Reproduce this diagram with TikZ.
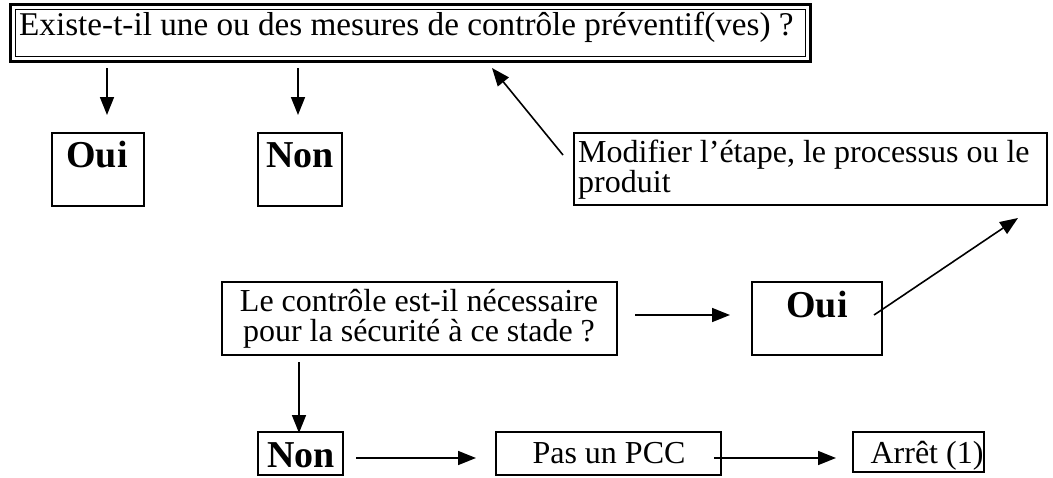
\documentclass[tikz,border=0pt]{standalone}
\usepackage{fontspec}
\setmainfont{Liberation Serif}
\usetikzlibrary{arrows.meta}
\begin{document}
\begin{tikzpicture}[x=1pt,y=-1pt,
  box/.style={draw, line width=1.8pt, rectangle, inner sep=0pt, outer sep=0pt},
  txt/.style={font=\fontsize{32}{30}\selectfont, inner sep=0pt, anchor=base},
  txtw/.style={txt, anchor=base west},
  btxt/.style={font=\fontsize{38}{40}\selectfont\bfseries, inner sep=0pt, anchor=base},
  arr/.style={line width=1.6pt, -{Triangle[length=18pt,width=14pt]}}]
\useasboundingbox (0,0) rectangle (1053,477);
% top double-lined box
\node[box, line width=3pt, minimum width=800pt, minimum height=57pt] (top) at (410.5,33) {};
\node[box, line width=1pt, minimum width=790pt, minimum height=47pt] (topin) at (410.5,33) {};
\node[txtw, font=\fontsize{33.2}{34}\selectfont] (toptxt) at (19,35) {Existe-t-il une ou des mesures de contr\^ole pr\'eventif(ves) ?};
% boxes
\node[box, minimum width=92pt, minimum height=73pt] (oui1) at (98,169.5) {};
\node[box, minimum width=84pt, minimum height=73pt] (non1) at (300,169.5) {};
\node[box, minimum width=473pt, minimum height=72pt] (mod) at (810.5,169) {};
\node[box, minimum width=395pt, minimum height=73pt] (ctrl) at (419.5,318.5) {};
\node[box, minimum width=130pt, minimum height=73pt] (oui2) at (817,318.5) {};
\node[box, minimum width=85pt, minimum height=43pt] (non2) at (300.5,453.5) {};
\node[box, minimum width=225pt, minimum height=43pt] (pcc) at (608.5,453.5) {};
\node[box, minimum width=131pt, minimum height=40pt] (arret) at (918.5,452) {};
% texts
\node[btxt] (oui1t) at (97,167) {Oui};
\node[btxt] (non1t) at (300,167) {Non};
\node[txtw, align=left] (modt) at (578,192) {Modifier l’étape, le processus ou le\\produit};
\node[txt, align=center] (ctrlt) at (419,341) {Le contrôle est-il nécessaire\\pour la sécurité à ce stade ?};
\node[btxt] (oui2t) at (817,317) {Oui};
\node[btxt] (non2t) at (301,467) {Non};
\node[txt] (pcct) at (609,463) {Pas un PCC};
\node[txt] (arrett) at (927,463) {Arrêt (1)};
% connector ends
\coordinate (a1s) at (107,68);  \coordinate (a1e) at (107,115);
\coordinate (a2s) at (298,68);  \coordinate (a2e) at (298,115);
\coordinate (a3s) at (563,155); \coordinate (a3e) at (492,68);
\coordinate (a4s) at (635,315); \coordinate (a4e) at (730,315);
\coordinate (a5s) at (874,315); \coordinate (a5e) at (1018,218);
\coordinate (a6s) at (299,362); \coordinate (a6e) at (299,433);
\coordinate (a7s) at (356,458); \coordinate (a7e) at (476,458);
\coordinate (a8s) at (714,458); \coordinate (a8e) at (836,458);
\draw[arr] (a1s) -- (a1e);
\draw[arr] (a2s) -- (a2e);
\draw[arr] (a3s) -- (a3e);
\draw[arr] (a4s) -- (a4e);
\draw[arr] (a5s) -- (a5e);
\draw[arr] (a6s) -- (a6e);
\draw[arr] (a7s) -- (a7e);
\draw[arr] (a8s) -- (a8e);
\end{tikzpicture}
\end{document}
